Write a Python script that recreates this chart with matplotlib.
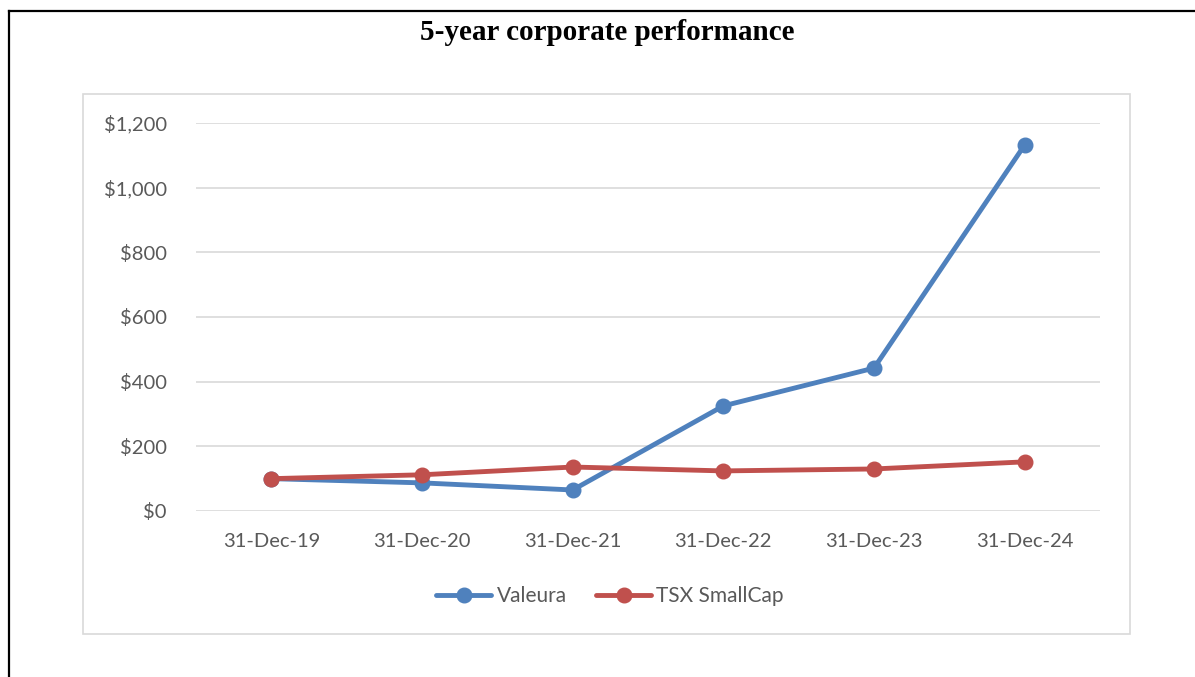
import matplotlib
matplotlib.use("Agg")
import matplotlib.pyplot as plt
from matplotlib.patches import Rectangle
from matplotlib.lines import Line2D

categories = ["31-Dec-19", "31-Dec-20", "31-Dec-21", "31-Dec-22", "31-Dec-23", "31-Dec-24"]
valeura = [100, 87, 65, 325, 442, 1132]
tsx = [100, 112, 136, 124, 130, 152]
yticks = [0, 200, 400, 600, 800, 1000, 1200]
ytick_labels = ["$0", "$200", "$400", "$600", "$800", "$1,000", "$1,200"]

W, H = 1195, 677
fig = plt.figure(figsize=(W / 100, H / 100), dpi=100)
fig.patch.set_facecolor("white")

def fx(px):
    return px / W

def fy(py):
    return 1 - py / H

# outer border lines (left and top)
fig.add_artist(Line2D([fx(9), fx(9)], [fy(11), fy(677)], color="black", lw=1.6, transform=fig.transFigure))
fig.add_artist(Line2D([fx(9), fx(1195)], [fy(11), fy(11)], color="black", lw=1.6, transform=fig.transFigure))

# chart area box
fig.add_artist(Rectangle((fx(83), fy(634)), fx(1130) - fx(83), fy(94) - fy(634),
                         fill=False, edgecolor="#d9d9d9", lw=1.2, transform=fig.transFigure))

fig.text(fx(607), fy(33), "5-year corporate performance", ha="center", va="center",
         fontsize=21, fontweight="bold", family="Liberation Serif", color="black")

ax = fig.add_axes([fx(196), fy(511), fx(1100) - fx(196), fy(123) - fy(511)])
x = list(range(len(categories)))
blue = "#4f81bd"
red = "#c0504d"
ax.plot(x, valeura, color=blue, lw=3.5, marker="o", markersize=10.5, label="Valeura",
        solid_capstyle="round", zorder=3)
ax.plot(x, tsx, color=red, lw=3.5, marker="o", markersize=10.5, label="TSX SmallCap",
        solid_capstyle="round", zorder=4)

ax.set_xlim(-0.5, len(categories) - 0.5)
ax.set_ylim(0, 1200)
ax.set_yticks(yticks)
ax.set_yticklabels(ytick_labels)
ax.set_xticks(x)
ax.set_xticklabels(categories)
ax.grid(axis="y", color="#d9d9d9", lw=1.2)
ax.set_axisbelow(True)
for s in ax.spines.values():
    s.set_visible(False)
ax.tick_params(axis="both", length=0, labelsize=14.5, labelcolor="#595959")
ax.tick_params(axis="x", pad=16)
ax.tick_params(axis="y", pad=21)
for lab in ax.get_xticklabels() + ax.get_yticklabels():
    lab.set_family("Lato")

leg = fig.legend(handles=ax.get_lines(), labels=["Valeura", "TSX SmallCap"],
                 loc="center", bbox_to_anchor=(fx(610), fy(596)), ncol=2, frameon=False,
                 prop={"family": "Lato", "size": 15}, handlelength=2.65,
                 columnspacing=1.4, handletextpad=0.25)
for t in leg.get_texts():
    t.set_color("#595959")

fig.savefig("out.png", dpi=100, facecolor="white")
